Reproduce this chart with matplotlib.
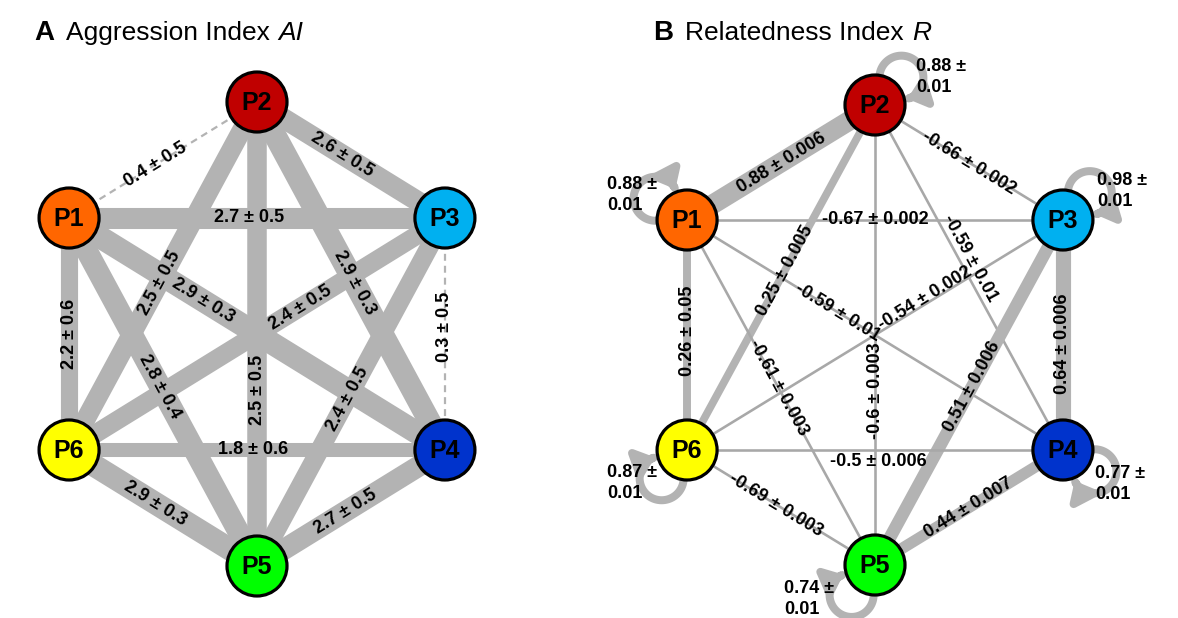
import numpy as np
import matplotlib
matplotlib.use("Agg")
import matplotlib.pyplot as plt
from matplotlib.patches import Circle, FancyArrowPatch
from matplotlib.path import Path

plt.rcParams['font.family'] = ['Liberation Sans', 'DejaVu Sans']
plt.rcParams['lines.scale_dashes'] = False

# groups and their colours
nodes = ["P1", "P2", "P3", "P4", "P5", "P6"]
node_colors = ["#ff6600", "#c00000", "#00b0f0", "#0033cc", "#00ff00", "#ffff00"]

# aggression index between groups: mean and sd
ai_pairs = [("P1", "P2"), ("P2", "P3"), ("P1", "P3"), ("P2", "P6"), ("P2", "P4"),
            ("P1", "P4"), ("P3", "P6"), ("P1", "P5"), ("P2", "P5"), ("P3", "P5"),
            ("P1", "P6"), ("P3", "P4"), ("P6", "P4"), ("P6", "P5"), ("P5", "P4")]
ai_mean = [0.4, 2.6, 2.7, 2.5, 2.9, 2.9, 2.4, 2.8, 2.5, 2.4, 2.2, 0.3, 1.8, 2.9, 2.7]
ai_sd = [0.5, 0.5, 0.5, 0.5, 0.3, 0.3, 0.5, 0.4, 0.5, 0.5, 0.6, 0.5, 0.6, 0.3, 0.5]

# relatedness index between groups: mean and sd
r_pairs = [("P1", "P2"), ("P2", "P3"), ("P1", "P3"), ("P2", "P4"), ("P1", "P4"),
           ("P3", "P6"), ("P2", "P6"), ("P1", "P5"), ("P2", "P5"), ("P3", "P5"),
           ("P3", "P4"), ("P1", "P6"), ("P6", "P4"), ("P6", "P5"), ("P5", "P4")]
r_mean = [0.88, -0.66, -0.67, -0.59, -0.59, -0.54, 0.25, -0.61, -0.6, 0.51,
          0.64, 0.26, -0.5, -0.69, 0.44]
r_sd = [0.006, 0.002, 0.002, 0.01, 0.01, 0.002, 0.005, 0.003, 0.003, 0.006,
        0.006, 0.05, 0.006, 0.003, 0.007]

# relatedness within each group (self loops)
r_self_mean = [0.88, 0.88, 0.98, 0.77, 0.74, 0.87]
r_self_sd = [0.01, 0.01, 0.01, 0.01, 0.01, 0.01]

# label placement: fraction along the edge, optional pixel shift
ai_label_at = {("P1", "P2"): 0.46, ("P2", "P3"): 0.455, ("P1", "P3"): 0.48,
               ("P2", "P6"): 0.52, ("P2", "P4"): 0.52, ("P1", "P4"): 0.357,
               ("P3", "P6"): 0.385, ("P1", "P5"): 0.484, ("P2", "P5"): 0.62,
               ("P3", "P5"): 0.52, ("P1", "P6"): 0.5, ("P3", "P4"): 0.47,
               ("P6", "P4"): 0.49, ("P6", "P5"): 0.46, ("P5", "P4"): 0.47}
r_label_at = {("P1", "P2"): 0.5, ("P2", "P3"): 0.5, ("P1", "P3"): 0.5,
              ("P2", "P4"): 0.46, ("P1", "P4"): 0.40, ("P3", "P6"): 0.366,
              ("P2", "P6"): 0.48, ("P1", "P5"): 0.487, ("P2", "P5"): 0.62,
              ("P3", "P5"): 0.484, ("P3", "P4"): 0.54, ("P1", "P6"): 0.48,
              ("P6", "P4"): 0.51, ("P6", "P5"): 0.474, ("P5", "P4"): 0.5}
r_label_shift = {("P2", "P4"): (9, -5), ("P3", "P6"): (0, -6), ("P6", "P4"): (0, 11)}

# self loop direction (deg) and where its label block sits relative to the node
loop_dir = {"P1": 146, "P2": 46, "P3": 45, "P4": -34, "P5": -128, "P6": -132}
loop_label_off = {"P1": (-80, -25), "P2": (41, -28), "P3": (34, -29),
                  "P4": (32, 34), "P5": (-91, 34), "P6": (-80, 33)}

W, H = 1178, 618
NODE_R = 30
PT = 0.72          # points per pixel at 100 dpi
GREY = "#b3b3b3"
THIN_GREY = "#a8a8a8"


def hexagon(cx, cy, rx, ry):
    ang = np.radians([150, 90, 30, -30, -90, -150])
    return {n: (cx + rx * np.cos(a), cy - ry * np.sin(a)) for n, a in zip(nodes, ang)}


def fmt(m, s):
    return f"{m:g} \u00b1 {s:g}"


def edge_label(ax, p, q, text, t, shift=(0, 0)):
    x = p[0] + t * (q[0] - p[0]) + shift[0]
    y = p[1] + t * (q[1] - p[1]) + shift[1]
    ang = np.degrees(np.arctan2(-(q[1] - p[1]), q[0] - p[0]))
    if ang > 90:
        ang -= 180
    if ang <= -90:
        ang += 180
    ax.text(x, y, text, rotation=ang, rotation_mode='anchor', ha='center',
            va='center', fontsize=13, fontweight='bold', zorder=4)


def draw_nodes(ax, pos):
    for n, col in zip(nodes, node_colors):
        ax.add_patch(Circle(pos[n], NODE_R, fc=col, ec='black', lw=2.3, zorder=5))
        ax.text(pos[n][0], pos[n][1] + 1, n, ha='center', va='center',
                fontsize=18, fontweight='bold', zorder=6)


def self_loop(ax, c, theta, d=38, rl=22, lw_px=8):
    u = np.array([np.cos(np.radians(theta)), -np.sin(np.radians(theta))])
    lc = np.array(c) + d * u

    def phi(R):
        return np.degrees(np.arccos((d * d + rl * rl - R * R) / (2 * d * rl)))

    t0 = theta + 180 - phi(NODE_R - 6)
    t1 = theta - 180 + phi(NODE_R + 3)
    t = np.radians(np.linspace(t0, t1, 80))
    pts = np.column_stack([lc[0] + rl * np.cos(t), lc[1] - rl * np.sin(t)])
    arr = FancyArrowPatch(path=Path(pts), arrowstyle="-|>,head_length=0.5,head_width=0.42",
                          mutation_scale=20, lw=lw_px * PT, color=GREY, zorder=2)
    ax.add_patch(arr)


def panel_title(ax, x, y, letter, name, symbol):
    rend = fig.canvas.get_renderer()
    ax.text(x, y, letter, fontsize=20, fontweight='bold', va='baseline')
    t = ax.text(x + 32, y, name, fontsize=19, va='baseline')
    x1 = t.get_window_extent(rend).x1
    ax.text(x1 + 1, y, symbol, fontsize=19, style='italic', va='baseline')


fig = plt.figure(figsize=(W / 100, H / 100), dpi=100, facecolor='white')
ax = fig.add_axes([0, 0, 1, 1])
ax.set_xlim(0, W)
ax.set_ylim(H, 0)
ax.axis('off')

# Panel A: aggression index
pos_a = hexagon(257, 334, 217, 232)
for (a, b), m, s in zip(ai_pairs, ai_mean, ai_sd):
    p, q = pos_a[a], pos_a[b]
    if m >= 1:
        ax.plot([p[0], q[0]], [p[1], q[1]], color=GREY, lw=7.8 * m * PT,
                solid_capstyle='butt', zorder=1)
    else:
        ax.plot([p[0], q[0]], [p[1], q[1]], color=GREY, lw=1.6,
                dashes=[5, 3.6], zorder=1)
    edge_label(ax, p, q, fmt(m, s), ai_label_at[(a, b)])
draw_nodes(ax, pos_a)
panel_title(ax, 34, 40, "A", "Aggression Index ", "AI")

# Panel B: relatedness index
pos_b = hexagon(875, 335, 217, 230)
for (a, b), m, s in zip(r_pairs, r_mean, r_sd):
    p, q = pos_b[a], pos_b[b]
    if m > 0:
        ax.plot([p[0], q[0]], [p[1], q[1]], color=GREY, lw=(3 + 19 * m) * PT,
                solid_capstyle='butt', zorder=1)
    else:
        ax.plot([p[0], q[0]], [p[1], q[1]], color=THIN_GREY, lw=2.6 * PT, zorder=1)
    edge_label(ax, p, q, fmt(m, s), r_label_at[(a, b)],
               r_label_shift.get((a, b), (0, 0)))

for n, m, s in zip(nodes, r_self_mean, r_self_sd):
    self_loop(ax, pos_b[n], loop_dir[n])
    dx, dy = loop_label_off[n]
    ax.text(pos_b[n][0] + dx, pos_b[n][1] + dy, f"{m:g} \u00b1\n{s:g}",
            ha='left', va='center', fontsize=13, fontweight='bold',
            linespacing=1.25, zorder=4)
draw_nodes(ax, pos_b)
panel_title(ax, 653, 40, "B", "Relatedness Index ", "R")

fig.savefig("out.png", dpi=100)
